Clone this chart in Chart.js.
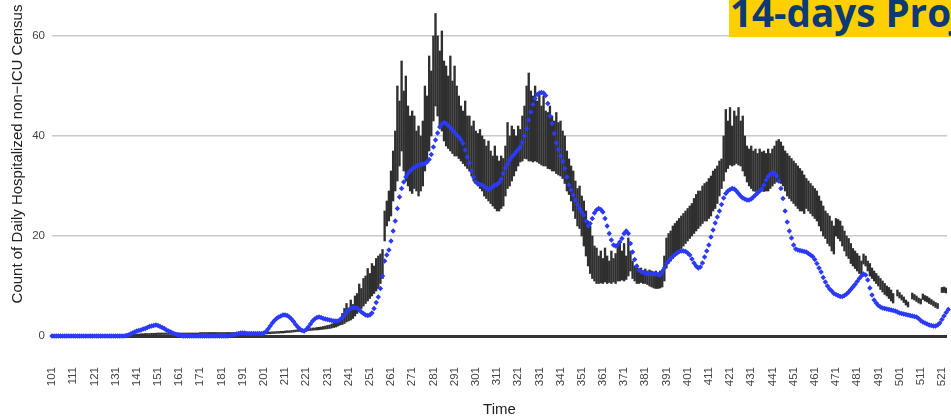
<!DOCTYPE html>
<html>
<head>
<meta charset="utf-8">
<script src="https://cdn.jsdelivr.net/npm/chart.js@4/dist/chart.umd.min.js"></script>
<style>
  html, body { margin: 0; padding: 0; background: #fff; overflow: hidden; }
  #wrap { position: relative; width: 951px; height: 419px; }
  #banner {
    position: absolute; left: 729px; top: 0; width: 222px; height: 37px;
    background: #FFD000; overflow: hidden; white-space: nowrap;
    font: bold 38.6px "Open Sans", "Noto Sans", sans-serif; color: #0b3a75; line-height: 38.6px;
  }
  #banner span { display: block; margin-top: -7.5px; margin-left: 1px; }
</style>
</head>
<body>
<div id="wrap">
  <canvas id="c" width="951" height="419"></canvas>
  <div id="banner"><span>14-days Projection</span></div>
</div>
<script>
// Time axis: daily values starting at day 101
const firstDay = 101;
const xTickLabels = [101, 111, 121, 131, 141, 151, 161, 171, 181, 191, 201, 211, 221, 231, 241, 251, 261, 271,
  281, 291, 301, 311, 321, 331, 341, 351, 361, 371, 381, 391, 401, 411, 421, 431, 441, 451, 461, 471,
  481, 491, 501, 511, 521];
const yTickLabels = [0, 20, 40, 60];
const xTitle = 'Time';
const yTitle = 'Count of Daily Hospitalized non\u2212ICU Census';

// Projected census (blue dots), one value per day
const projected = [
  0, 0, 0, 0, 0, 0, 0, 0, 0, 0,
  0, 0, 0, 0, 0, 0, 0, 0, 0, 0,
  0, 0, 0, 0, 0, 0, 0, 0, 0, 0,
  0, 0, 0, 0, 0, 0.1, 0.2, 0.4, 0.6, 0.8,
  1.0, 1.1, 1.2, 1.4, 1.5, 1.7, 1.9, 2.0, 2.1, 2.2,
  2.1, 1.9, 1.7, 1.5, 1.2, 1.0, 0.8, 0.6, 0.4, 0.3,
  0.2, 0.1, 0, 0, 0, 0, 0, 0, 0, 0,
  0, 0, 0, 0, 0, 0, 0, 0, 0, 0,
  0, 0, 0, 0, 0.1, 0.2, 0.3, 0.4, 0.5, 0.6,
  0.6, 0.6, 0.5, 0.5, 0.5, 0.5, 0.5, 0.5, 0.5, 0.5,
  0.6, 0.9, 1.4, 2.0, 2.6, 3.1, 3.5, 3.8, 4.0, 4.2,
  4.2, 4.1, 3.8, 3.4, 2.9, 2.3, 1.8, 1.4, 1.1, 1.0,
  1.3, 1.8, 2.4, 3.0, 3.4, 3.7, 3.8, 3.7, 3.5, 3.4,
  3.3, 3.2, 3.1, 3.0, 3.0, 3.0, 3.3, 3.7, 4.2, 4.8,
  5.2, 5.5, 5.6, 5.7, 5.6, 5.2, 4.8, 4.5, 4.2, 4.1,
  4.2, 4.6, 5.5, 6.7, 7.8, 9.5, 12.0, 15.0, 16.2, 17.2,
  19.0, 21.0, 23.0, 25.5, 27.8, 29.5, 30.8, 31.8, 32.5, 33.0,
  33.4, 33.7, 34.0, 34.2, 34.3, 34.4, 34.5, 34.8, 35.3, 36.3,
  37.8, 39.2, 40.6, 41.8, 42.4, 42.7, 42.5, 42.1, 41.7, 41.2,
  40.7, 40.2, 39.8, 39.2, 38.5, 37.2, 35.8, 34.6, 33.0, 31.8,
  30.8, 30.5, 30.3, 30.2, 29.9, 29.5, 29.3, 29.5, 29.8, 30.2,
  30.3, 30.7, 31.4, 32.5, 33.6, 34.4, 35.2, 35.8, 36.3, 36.8,
  37.3, 37.8, 38.7, 40.0, 41.5, 43.2, 44.8, 46.3, 47.5, 48.3,
  48.6, 48.7, 48.6, 48.1, 46.5, 44.0, 42.5, 40.5, 38.6, 37.3,
  36.0, 34.9, 33.5, 31.8, 30.2, 29.2, 28.2, 27.2, 26.3, 25.5,
  24.8, 24.2, 23.0, 22.0, 22.5, 23.5, 24.6, 25.2, 25.5, 25.3,
  24.8, 23.5, 22.0, 20.5, 19.2, 18.2, 18.0, 18.2, 18.8, 19.5,
  20.5, 21.0, 20.5, 18.5, 16.8, 15.3, 14.0, 13.2, 12.9, 12.7,
  12.6, 12.5, 12.5, 12.4, 12.4, 12.4, 12.3, 12.2, 12.8, 13.6,
  14.5, 15.0, 15.5, 15.9, 16.3, 16.6, 16.9, 17.0, 17.0, 16.9,
  16.6, 16.2, 15.4, 14.6, 14.0, 13.6, 13.8, 14.6, 15.8, 17.0,
  18.2, 19.8, 21.2, 22.6, 23.8, 25.0, 26.3, 27.6, 28.5, 29.0,
  29.3, 29.5, 29.4, 29.0, 28.5, 28.0, 27.6, 27.4, 27.2, 27.2,
  27.4, 27.8, 28.2, 28.6, 29.0, 29.4, 30.2, 31.2, 31.9, 32.4,
  32.6, 32.5, 32.0, 31.0, 29.5, 27.5, 25.0, 22.8, 21.0, 19.6,
  18.2, 17.4, 17.2, 17.1, 17.0, 16.9, 16.8, 16.5, 16.2, 15.9,
  15.3, 14.5, 13.6, 12.8, 11.7, 10.8, 10.0, 9.4, 9.0, 8.5,
  8.3, 8.1, 7.9, 7.9, 8.1, 8.4, 8.8, 9.3, 9.8, 10.3,
  10.9, 11.5, 12.0, 12.4, 12.2, 11.2, 9.6, 8.2, 7.2, 6.6,
  6.1, 5.8, 5.6, 5.5, 5.4, 5.3, 5.2, 5.1, 5.0, 4.8,
  4.6, 4.5, 4.4, 4.3, 4.2, 4.1, 4.0, 3.9, 3.8, 3.5,
  3.1, 2.8, 2.6, 2.4, 2.2, 2.1, 2.0, 2.0, 2.2, 2.6,
  3.3, 4.0, 4.7, 5.3
];

// Observed census daily range (dark bars): lower end per day
const observedLow = [
  null, null, null, null, null, null, null, null, null, null,
  null, null, null, null, null, null, null, null, null, null,
  null, null, null, null, null, null, null, null, null, null,
  null, null, null, null, null, null, 0.1, 0.1, 0.1, 0.1,
  0.1, 0.1, 0.15, 0.15, 0.2, 0.2, 0.2, 0.25, 0.25, 0.25,
  0.3, 0.3, 0.3, 0.3, 0.3, 0.3, 0.3, 0.3, 0.3, 0.3,
  0.3, 0.3, 0.3, 0.3, 0.3, 0.3, 0.3, 0.3, 0.3, 0.3,
  0.35, 0.35, 0.35, 0.35, 0.35, 0.35, 0.35, 0.35, 0.35, 0.35,
  0.35, 0.35, 0.35, 0.35, 0.35, 0.35, 0.35, 0.35, 0.35, 0.35,
  0.35, 0.35, 0.35, 0.35, 0.35, 0.35, 0.35, 0.35, 0.35, 0.35,
  0.4, 0.4, 0.45, 0.45, 0.5, 0.5, 0.55, 0.55, 0.6, 0.6,
  0.65, 0.7, 0.7, 0.75, 0.8, 0.85, 0.9, 0.9, 0.95, 1.0,
  1.0, 1.05, 1.1, 1.15, 1.2, 1.2, 1.25, 1.3, 1.35, 1.4,
  1.45, 1.5, 1.6, 1.7, 1.8, 2.0, 2.2, 2.3, 2.5, 2.8,
  3.0, 3.2, 3.5, 4.0, 4.5, 5.0, 5.5, 6.0, 6.5, 7.0,
  7.5, 8.0, 8.5, 9.0, 9.5, 10.5, 11.5, 19, 22, 23,
  24, 27, 29, 31, 34, 37, 33, 31, 30, 29,
  28.5, 29.5, 29, 28, 29, 30, 33, 35, 37, 40,
  43, 46, 44, 42, 41, 39, 38, 37.5, 37, 36.5,
  36, 36, 35.5, 35, 34.5, 34, 33.5, 33, 32, 31,
  30.5, 30, 29.5, 29, 28, 27.5, 27, 26.5, 26, 25.5,
  25, 25, 25.5, 26, 28, 29.5, 30, 31, 32, 33,
  34, 34.8, 35, 35.5, 35.4, 35, 35, 34.8, 35, 34.8,
  34.5, 34.2, 34, 34, 33.5, 33.4, 33, 33, 32.5, 32.2,
  32, 31.5, 30.5, 29, 28.3, 27, 25, 23.5, 22, 21.5,
  20, 18, 16, 14, 12.5, 11.5, 11, 10.5, 10.5, 10.6,
  10.5, 10.8, 10.5, 10.7, 10.5, 10.8, 10.5, 11, 11, 11.2,
  11, 11.3, 12, 13, 11.5, 11, 10.5, 10.5, 10.7, 10.5,
  10.5, 10.3, 10, 9.8, 9.6, 9.5, 9.5, 9.6, 9.8, 11,
  13.6, 14.5, 15, 15.5, 16, 16.4, 17, 17.5, 18, 18.5,
  19, 19.5, 20, 20.5, 21, 21.5, 22, 22.5, 23, 23,
  23.5, 24, 25, 25.5, 26.5, 28, 29.5, 31, 32.8, 33.5,
  34.2, 34, 34.2, 34.5, 34.2, 34, 33, 32, 30.8, 30,
  29.5, 29, 28.9, 29, 28.9, 29, 28.9, 29, 29, 29.5,
  30, 30.5, 30.8, 30.8, 30.5, 30, 29, 28, 27.5, 27,
  26.5, 26, 25.5, 25, 25, 24.5, 25.5, 25, 24.5, 24,
  23.5, 23, 22, 21, 20, 19.5, 18.5, 18, 17, 16.4,
  20, 19.5, 19, 18, 17, 16, 15.5, 14.5, 14, 13.5,
  13, 12.5, 12.2, 14.4, 14, 13, 12, 11.5, 11, 10.5,
  10, 9.3, 8.8, 8.3, 8, 7.5, 7, 6.6, null, 8,
  7.6, 7.2, 6.7, 6.2, 5.8, null, 7.4, 7.2, 6.9, 6.6,
  6.4, 7.3, 7, 6.8, 6.5, 6.3, 6, 5.7, 5.5, null,
  8.7, 8.7, 8.6, 8.6
];

// Observed census daily range (dark bars): upper end per day
const observedHigh = [
  null, null, null, null, null, null, null, null, null, null,
  null, null, null, null, null, null, null, null, null, null,
  null, null, null, null, null, null, null, null, null, null,
  null, null, null, null, null, null, 0.35, 0.35, 0.4, 0.4,
  0.4, 0.4, 0.45, 0.45, 0.5, 0.5, 0.5, 0.55, 0.55, 0.55,
  0.6, 0.6, 0.6, 0.6, 0.6, 0.6, 0.6, 0.6, 0.6, 0.6,
  0.6, 0.6, 0.6, 0.6, 0.6, 0.6, 0.6, 0.6, 0.6, 0.6,
  0.7, 0.7, 0.7, 0.7, 0.7, 0.7, 0.7, 0.7, 0.7, 0.7,
  0.7, 0.7, 0.7, 0.7, 0.7, 0.7, 0.7, 0.7, 0.7, 0.7,
  0.7, 0.7, 0.7, 0.7, 0.7, 0.7, 0.7, 0.7, 0.7, 0.7,
  0.75, 0.75, 0.8, 0.8, 0.85, 0.85, 0.9, 0.9, 0.95, 0.95,
  1.0, 1.05, 1.05, 1.1, 1.15, 1.2, 1.25, 1.25, 1.3, 1.35,
  1.4, 1.45, 1.5, 1.6, 1.6, 1.7, 1.75, 1.8, 1.9, 2.0,
  2.1, 2.2, 2.4, 2.6, 2.8, 3.0, 3.5, 4.5, 5.5, 6.5,
  5.5, 7.2, 6.3, 8.0, 8.5, 10.4, 9.5, 11.5, 12.0, 13.5,
  12.5, 14.5, 14.0, 15.5, 16.0, 16.4, 17.3, 25, 27, 29,
  33, 37, 41, 50, 47, 55, 49, 52, 46, 44,
  45, 44, 41, 42, 40, 43, 50, 48, 56, 53,
  60, 64.5, 60, 57, 61, 55, 54, 52, 56, 51,
  54, 50, 48, 46, 45, 47, 44, 44, 42, 43,
  41, 40.5, 41.3, 40, 39.3, 38, 39, 37, 36, 38,
  36, 35, 36, 35.5, 38, 42.7, 40, 42, 41.3, 40,
  42, 41.3, 44, 46, 50, 52.6, 49, 48, 50, 47,
  48.5, 46, 48, 45, 44.7, 46, 44, 43, 44.7, 42.7,
  43, 41, 40, 37, 35.4, 34, 33, 31, 29.5, 30,
  28, 27, 25, 23, 22, 20, 18, 17.6, 16, 17,
  15.5, 17.6, 16, 15, 17, 15.5, 16.5, 18, 19, 17,
  18.5, 16, 19.6, 17, 15, 14, 13.6, 13.2, 13.6, 13,
  13.4, 13, 13.2, 13, 12.8, 13, 12.6, 13, 13.3, 16,
  19.6, 20.5, 21, 22, 22.5, 23, 23.5, 24, 24.5, 25,
  25.5, 26, 26.5, 27.5, 28.3, 29, 29, 30, 30.5, 30.8,
  31.5, 32, 33, 33.4, 34, 35, 35.4, 40, 45.3, 43,
  45.7, 42, 45, 44, 45.7, 43, 44, 40, 38, 37.4,
  38, 37, 37.4, 36.5, 37.4, 36.8, 37, 36.5, 37.4, 36.5,
  37.4, 38, 39, 39.3, 38.8, 38, 37, 36.5, 36, 35.5,
  35, 34.5, 34, 33.5, 33, 32.2, 31.5, 31, 30.5, 30,
  29.5, 29, 28, 27, 26, 25, 24.5, 24, 23, 22,
  23.5, 23.3, 23, 22, 21, 20, 19.5, 18.5, 17.5, 17,
  16.5, 16, 15, 16.4, 16, 15, 14.5, 13.6, 13, 12.5,
  12, 11.5, 11, 10.5, 10, 9.7, 9.2, 8.5, null, 9.2,
  8.7, 8.2, 7.8, 7.2, 6.8, null, 8.6, 8.3, 8, 7.6,
  7.4, 8.4, 8.1, 7.9, 7.6, 7.3, 7, 6.7, 6.5, null,
  9.7, 9.8, 9.6, 9.6
];

const fontFamily = '"Liberation Sans", Arial, Helvetica, sans-serif';

const days = projected.map((_, i) => firstDay + i);
const rangeBars = [];
days.forEach((d, i) => {
  if (observedLow[i] !== null && observedHigh[i] !== null) {
    rangeBars.push({ x: d, y: [observedLow[i], observedHigh[i]] });
  }
});
const projectedPoints = days.map((d, i) => ({ x: d, y: projected[i] }));

// Rotated y-axis title drawn beside the tick labels
const yTitlePlugin = {
  id: 'yTitle',
  afterDraw(chart) {
    const ctx = chart.ctx;
    ctx.save();
    ctx.translate(18, 154);
    ctx.rotate(-Math.PI / 2);
    ctx.font = '15px ' + fontFamily;
    ctx.fillStyle = '#222';
    ctx.textAlign = 'center';
    ctx.textBaseline = 'middle';
    ctx.fillText(yTitle, 0, 0);
    ctx.restore();
  }
};

new Chart(document.getElementById('c'), {
  type: 'bar',
  data: {
    datasets: [
      {
        type: 'line',
        label: 'Projected',
        data: projectedPoints,
        showLine: false,
        pointStyle: 'rectRot',
        pointRadius: 2.7,
        pointBorderWidth: 0,
        pointBackgroundColor: '#2b3af7',
        order: 0,
        clip: false
      },
      {
        type: 'bar',
        label: 'Observed',
        data: rangeBars,
        backgroundColor: '#2f2f2f',
        borderWidth: 0,
        barThickness: 1.7,
        grouped: false,
        order: 1
      }
    ]
  },
  options: {
    responsive: false,
    animation: false,
    layout: { padding: 0 },
    plugins: { legend: { display: false }, tooltip: { enabled: false } },
    scales: {
      x: {
        type: 'linear',
        offset: false,
        min: 101,
        max: 523.4,
        afterBuildTicks(scale) { scale.ticks = xTickLabels.map(v => ({ value: v })); },
        afterFit(scale) { scale.height = 83; scale.paddingLeft = 0; scale.paddingRight = 0; },
        ticks: {
          autoSkip: false, minRotation: 90, maxRotation: 90, padding: 31,
          color: '#444', font: { size: 11.5, family: fontFamily },
          callback: v => String(v)
        },
        grid: { display: false, drawTicks: false, offset: false },
        border: { display: false },
        title: {
          display: true, text: xTitle, color: '#222',
          font: { size: 15, family: fontFamily }, padding: { top: 0, bottom: 0 }
        }
      },
      y: {
        min: 0,
        max: 66.4,
        afterBuildTicks(scale) { scale.ticks = yTickLabels.map(v => ({ value: v })); },
        afterFit(scale) { scale.width = 52; scale.paddingTop = 0; scale.paddingBottom = 0; },
        ticks: { padding: 7, color: '#444', font: { size: 11.5, family: fontFamily } },
        grid: {
          drawTicks: false,
          color: c => (c.tick && c.tick.value === 0 ? '#333' : '#cacaca'),
          lineWidth: c => (c.tick && c.tick.value === 0 ? 3 : 1.5)
        },
        border: { display: false }
      }
    }
  },
  plugins: [yTitlePlugin]
});
</script>
</body>
</html>
